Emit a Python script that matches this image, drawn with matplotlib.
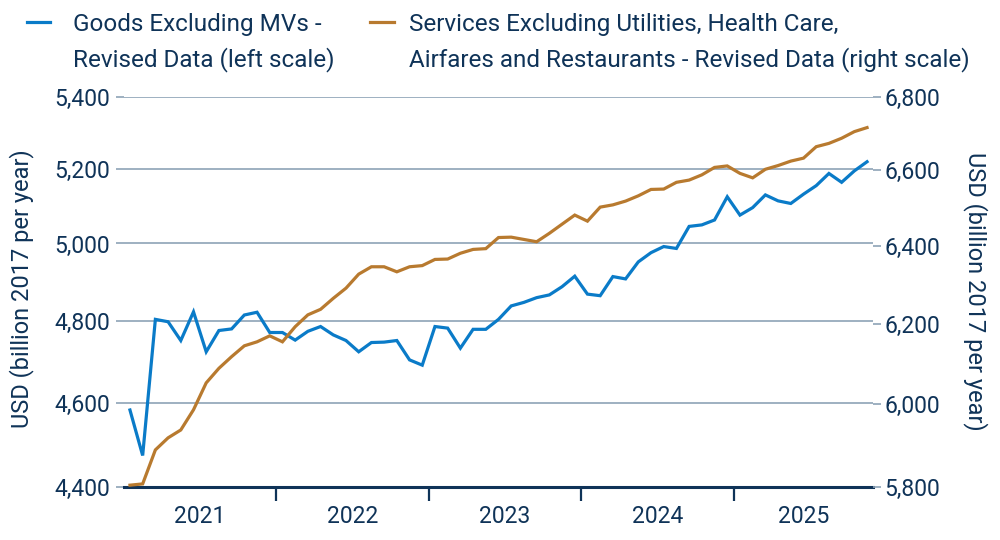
import numpy as np
import matplotlib
matplotlib.use("Agg")
import matplotlib.pyplot as plt
from matplotlib.lines import Line2D
from matplotlib.ticker import FixedLocator, FuncFormatter, NullLocator

# monthly values, Jan 2021 - Nov 2025
goods = [4582, 4474, 4805, 4799, 4752, 4824, 4724, 4777, 4781, 4816, 4823, 4772,
         4772, 4753, 4775, 4787, 4766, 4752, 4724, 4747, 4748, 4752, 4704, 4691,
         4787, 4783, 4733, 4780, 4780, 4805, 4839, 4848, 4860, 4867, 4888, 4915,
         4869, 4865, 4914, 4908, 4952, 4976, 4992, 4987, 5045, 5049, 5062, 5124,
         5075, 5095, 5129, 5113, 5106, 5131, 5154, 5187, 5163, 5194, 5219]
services = [5805, 5808, 5889, 5918, 5937, 5986, 6052, 6088, 6117, 6144, 6154, 6169,
            6154, 6192, 6222, 6236, 6264, 6290, 6326, 6345, 6345, 6332, 6345, 6348,
            6364, 6365, 6380, 6390, 6392, 6421, 6422, 6416, 6410, 6432, 6456, 6480,
            6464, 6501, 6507, 6517, 6531, 6548, 6549, 6567, 6573, 6587, 6607, 6611,
            6591, 6579, 6602, 6612, 6624, 6632, 6663, 6672, 6686, 6704, 6715]
years = ["2021", "2022", "2023", "2024", "2025"]
left_ticks = [4400, 4600, 4800, 5000, 5200, 5400]
right_ticks = [5800, 6000, 6200, 6400, 6600, 6800]
goods_label = ["Goods Excluding MVs -", "Revised Data (left scale)"]
services_label = ["Services Excluding Utilities, Health Care,",
                  "Airfares and Restaurants - Revised Data (right scale)"]
ylabel = "USD (billion 2017 per year)"

BLUE = "#0a7bc8"
ORANGE = "#b87a2f"
NAVY = "#0f3358"
GRID = "#8ea3b6"

plt.rcParams["font.family"] = ["Roboto", "DejaVu Sans"]
plt.rcParams["font.size"] = 16.5

months = np.arange(len(goods))

fig = plt.figure(figsize=(10, 5.4), dpi=100)
ax = fig.add_axes([0.1236, 0.0976, 0.7498, 0.7233])
ax2 = ax.twinx()

ax.plot(months, goods, color=BLUE, lw=2.3, solid_joinstyle="miter", zorder=3)
ax2.plot(months, services, color=ORANGE, lw=2.3, solid_joinstyle="miter", zorder=3)

for a, ticks in [(ax, left_ticks), (ax2, right_ticks)]:
    a.set_yscale("log")
    a.set_ylim(ticks[0], ticks[-1])
    a.yaxis.set_major_locator(FixedLocator(ticks))
    a.yaxis.set_minor_locator(NullLocator())
    a.yaxis.set_major_formatter(FuncFormatter(lambda v, p: f"{v:,.0f}"))
    for s in a.spines.values():
        s.set_visible(False)

ax.set_xlim(-0.5, len(goods) - 0.5)
ax.yaxis.grid(True, color=GRID, lw=1.2, zorder=0)
ax.set_axisbelow(True)
ax.tick_params(axis="y", length=6, width=1.2, color=GRID, labelcolor=NAVY, pad=4)
ax2.tick_params(axis="y", length=6, width=1.2, color=GRID, labelcolor=NAVY, pad=2)

ax.spines["bottom"].set_visible(True)
ax.spines["bottom"].set_color(NAVY)
ax.spines["bottom"].set_linewidth(2.2)
ax.spines["bottom"].set_zorder(4)

# year boundaries as ticks, year names in between
bounds = [11.5, 23.5, 35.5, 47.5]
edges = [-0.5] + bounds + [len(goods) - 0.5]
centers = [(edges[i] + edges[i + 1]) / 2 for i in range(len(years))]
ax.set_xticks(bounds)
ax.set_xticklabels([])
ax.set_xticks(centers, minor=True)
ax.set_xticklabels(years, minor=True)
ax.tick_params(axis="x", which="major", length=10, width=1.6, color=NAVY, direction="out")
ax.tick_params(axis="x", which="minor", length=0, pad=13, labelcolor=NAVY)

fig.text(0.022, 0.465, ylabel, rotation=90, ha="center", va="center", color=NAVY, fontsize=17)
fig.text(0.975, 0.460, ylabel, rotation=270, ha="center", va="center", color=NAVY, fontsize=17)

# legend
fig.add_artist(Line2D([0.027, 0.050], [0.959, 0.959], color=BLUE, lw=2.3))
fig.add_artist(Line2D([0.370, 0.394], [0.959, 0.959], color=ORANGE, lw=2.3))
for i, y in enumerate([0.9426, 0.8778]):
    fig.text(0.073, y, goods_label[i], ha="left", va="baseline", color=NAVY, fontsize=17.5)
    fig.text(0.409, y, services_label[i], ha="left", va="baseline", color=NAVY, fontsize=17.5)

fig.savefig("out.png", dpi=100)
